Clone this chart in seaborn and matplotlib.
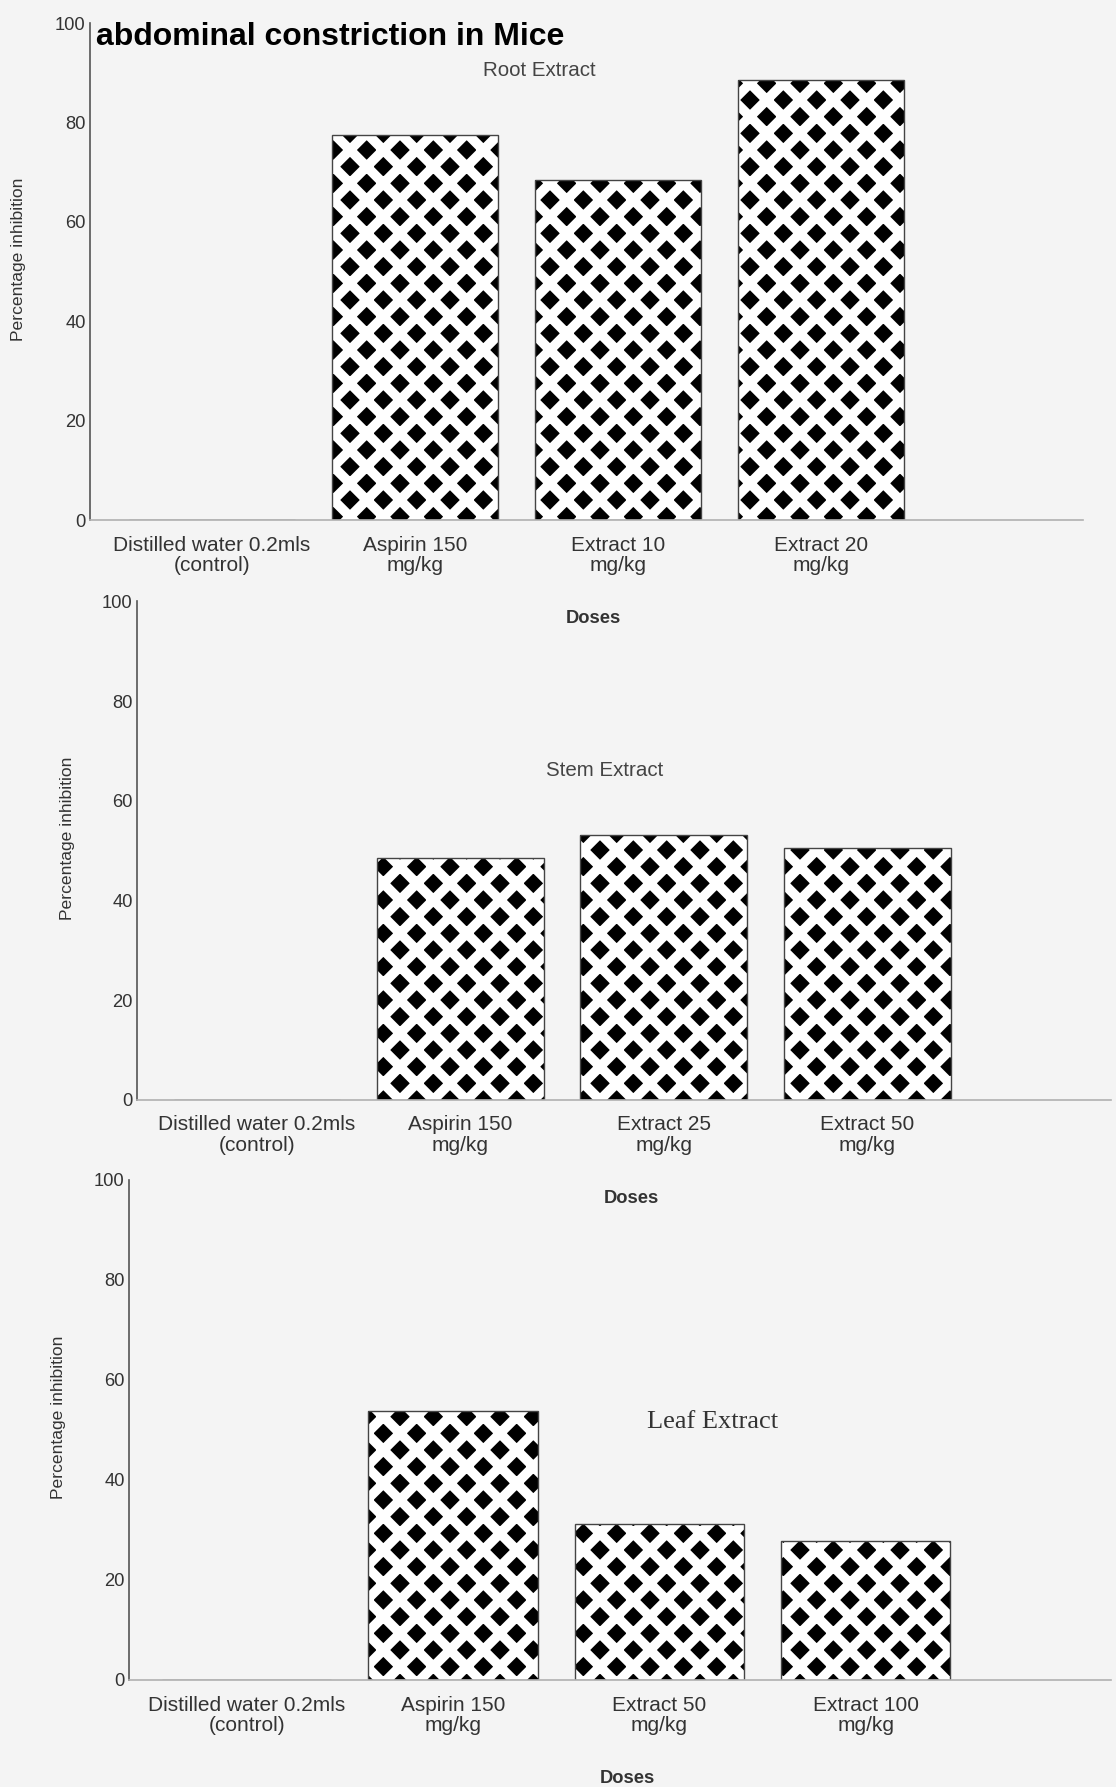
import matplotlib
matplotlib.use("Agg")
import matplotlib.pyplot as plt
import seaborn as sns
import pandas as pd

# values (percentage inhibition)
root_doses = ['Distilled water 0.2mls\n(control)', 'Aspirin 150\nmg/kg', 'Extract 10\nmg/kg', 'Extract 20\nmg/kg']
root_pct = [0, 77.6, 68.4, 88.5]

stem_doses = ['Distilled water 0.2mls\n(control)', 'Aspirin 150\nmg/kg', 'Extract 25\nmg/kg', 'Extract 50\nmg/kg']
stem_pct = [0, 48.5, 53.2, 50.5]

leaf_doses = ['Distilled water 0.2mls\n(control)', 'Aspirin 150\nmg/kg', 'Extract 50\nmg/kg', 'Extract 100\nmg/kg']
leaf_pct = [0, 53.8, 31.2, 27.8]

sns.set_style('white')
plt.rcParams['font.family'] = ['Liberation Sans', 'DejaVu Sans']
plt.rcParams['hatch.linewidth'] = 3.5

bg = '#f4f4f4'
txt = '#333333'

fig = plt.figure(figsize=(5.58, 8.935), dpi=200, facecolor=bg)

# rect, xlim, panel label, label pos, label font
panels = [
    (root_doses, root_pct, [0.0806, 0.709, 0.890, 0.278], (-0.60, 4.29),
     'Root Extract', (1.61, 90.4), dict(fontsize=7.4, color='#444444')),
    (stem_doses, stem_pct, [0.1228, 0.3845, 0.873, 0.279], (-0.59, 4.20),
     'Stem Extract', (1.71, 66), dict(fontsize=7.4, color='#444444')),
    (leaf_doses, leaf_pct, [0.1156, 0.0599, 0.880, 0.2798], (-0.57, 4.19),
     'Leaf Extract', (2.26, 51.6), dict(fontsize=9.5, color='#333333',
                                        family=['Liberation Serif', 'DejaVu Serif'])),
]

for doses, pct, rect, xl, name, pos, fkw in panels:
    ax = fig.add_axes(rect)
    ax.set_facecolor('none')
    df = pd.DataFrame({'dose': doses, 'pct': pct})
    # woven look: black bars with thick white diagonal hatch
    sns.barplot(data=df, x='dose', y='pct', order=doses, color='black',
                edgecolor='white', hatch='xx', linewidth=0, width=0.82,
                saturation=1, errorbar=None, ax=ax)
    # thin outline on top
    sns.barplot(data=df, x='dose', y='pct', order=doses, color='#444444',
                fill=False, linewidth=0.5, width=0.82, errorbar=None, ax=ax)
    ax.set_xlim(*xl)
    ax.set_ylim(0, 100)
    ax.set_yticks(range(0, 101, 20))
    ax.tick_params(axis='both', length=0, labelcolor=txt)
    ax.tick_params(axis='x', pad=5.6, labelsize=7.5)
    ax.tick_params(axis='y', pad=1.6, labelsize=6.6)
    for lbl in ax.get_xticklabels():
        lbl.set_linespacing(1.08)
    sns.despine(ax=ax)
    ax.spines['left'].set_color('#555555')
    ax.spines['left'].set_linewidth(0.6)
    ax.spines['bottom'].set_color('#b0b0b0')
    ax.spines['bottom'].set_linewidth(0.6)
    ax.set_xlabel('Doses', fontweight='bold', fontsize=6.6, color=txt)
    ax.xaxis.set_label_coords(0.507, -0.181)
    ax.set_ylabel('Percentage inhibition', fontsize=6.3, color=txt)
    ax.yaxis.set_label_coords(-0.064, 0.525)
    ax.text(pos[0], pos[1], name, ha='center', va='center', **fkw)

fig.text(0.086, 0.9795, 'abdominal constriction in Mice', fontsize=11.5,
         fontweight='bold', color='black', ha='left', va='center')

fig.savefig('out.png', dpi=200, facecolor=bg)
